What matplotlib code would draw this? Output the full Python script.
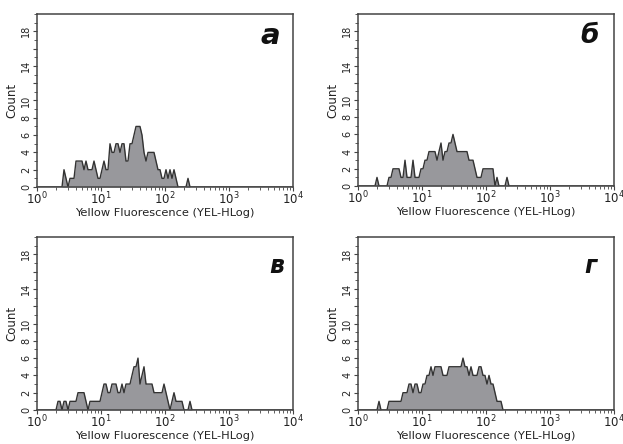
import numpy as np
import matplotlib.pyplot as plt
from matplotlib.ticker import FixedLocator, FixedFormatter, LogLocator, MultipleLocator, NullFormatter

# histogram channels: 32 bins per decade over 4 decades, counts start at bin 8
bins_per_decade = 32
n_bins = 128
first_bin = 8

counts_a = [0, 0, 0, 0, 0, 2, 1, 0, 1, 1, 1, 3, 3, 3, 3, 2, 3, 2, 2, 2,
            3, 2, 1, 1, 2, 3, 2, 2, 5, 4, 4, 5, 5, 4, 5, 5, 3, 3, 5, 5,
            6, 7, 7, 7, 6, 4, 3, 4, 4, 4, 4, 3, 2, 2, 1, 1, 2, 1, 2, 1,
            2, 1, 0, 0, 0, 0, 0, 1, 0]
counts_b = [0, 1, 0, 0, 0, 0, 0, 1, 1, 2, 2, 2, 2, 1, 1, 3, 1, 1, 1, 3,
            1, 1, 1, 2, 2, 3, 3, 4, 4, 4, 4, 3, 4, 5, 3, 4, 4, 5, 5, 6,
            5, 4, 4, 4, 4, 4, 4, 3, 3, 3, 2, 1, 1, 1, 2, 2, 2, 2, 2, 2,
            0, 1, 0, 0, 0, 0, 1, 0, 0]
counts_c = [0, 0, 1, 1, 0, 1, 1, 0, 1, 1, 1, 1, 2, 2, 2, 2, 1, 0, 1, 1,
            1, 1, 1, 1, 2, 3, 3, 2, 2, 3, 3, 3, 2, 2, 3, 2, 3, 3, 3, 4,
            5, 5, 6, 3, 4, 5, 3, 3, 3, 3, 2, 2, 2, 2, 2, 3, 2, 1, 0, 1,
            2, 1, 1, 1, 1, 0, 0, 0, 1]
counts_d = [0, 0, 1, 0, 0, 0, 0, 1, 1, 1, 1, 1, 1, 1, 2, 2, 2, 3, 3, 2,
            3, 3, 2, 2, 3, 3, 4, 4, 5, 4, 5, 5, 5, 5, 4, 4, 4, 5, 5, 5,
            5, 5, 5, 5, 6, 5, 5, 4, 5, 4, 4, 4, 5, 5, 4, 4, 3, 4, 3, 3,
            2, 1, 1, 1, 0, 0, 0, 0, 0]

panel_letters = ['а', 'б', 'в', 'г']
x_label = 'Yellow Fluorescence (YEL-HLog)'
y_label = 'Count'
y_ticks = list(range(0, 19, 2))
y_tick_labels = ['0', '2', '4', '6', '8', '10', '', '14', '', '18']

fill_color = '#98989c'
line_color = '#333333'
axis_color = '#444444'

W, H = 623, 444
fig = plt.figure(figsize=(W / 100, H / 100), dpi=100)

# left, top, height in pixels
boxes = [(37, 14, 173), (358, 14, 172), (37, 237, 173), (358, 237, 173)]
letter_pos = [(0.91, 0.87, 21), (0.905, 0.87, 19), (0.935, 0.83, 17), (0.91, 0.83, 17)]

centers = 10 ** ((np.arange(n_bins) + 0.5) / bins_per_decade)

for i, counts in enumerate([counts_a, counts_b, counts_c, counts_d]):
    left, top, h = boxes[i]
    ax = fig.add_axes([left / W, 1 - (top + h) / H, 256 / W, h / H])

    y = np.zeros(n_bins)
    y[first_bin:first_bin + len(counts)] = counts
    ax.fill_between(centers, y, 0, color=fill_color, lw=0)
    ax.plot(centers, y, color=line_color, lw=1.0)

    ax.set_xscale('log')
    ax.set_xlim(1, 1e4)
    ax.set_ylim(0, 20)
    ax.xaxis.set_major_locator(LogLocator(base=10, numticks=10))
    ax.xaxis.set_minor_locator(LogLocator(base=10, subs=np.arange(2, 10), numticks=20))
    ax.xaxis.set_minor_formatter(NullFormatter())
    ax.yaxis.set_major_locator(FixedLocator(y_ticks))
    ax.yaxis.set_major_formatter(FixedFormatter(y_tick_labels))
    ax.yaxis.set_minor_locator(MultipleLocator(1))

    ax.tick_params(axis='x', which='major', length=3, width=0.8, labelsize=8.5,
                   pad=0, colors=axis_color, labelcolor='#222222')
    ax.tick_params(axis='x', which='minor', length=2.5, width=0.6, colors=axis_color)
    ax.tick_params(axis='y', which='major', length=3, width=0.8, labelsize=7,
                   pad=1, colors=axis_color, labelcolor='#222222', labelrotation=90)
    ax.tick_params(axis='y', which='minor', length=2, width=0.6, colors=axis_color)
    for lab in ax.get_yticklabels():
        lab.set_va('center')

    for sp in ax.spines.values():
        sp.set_color(axis_color)
        sp.set_linewidth(1.1)

    ax.set_xlabel(x_label, fontsize=8.2, color='#222222', labelpad=0)
    ax.set_ylabel(y_label, fontsize=8.5, color='#222222', labelpad=2)

    lx, ly, fs = letter_pos[i]
    ax.text(lx, ly, panel_letters[i], transform=ax.transAxes, fontsize=fs,
            fontweight='bold', fontstyle='italic', ha='center', va='center',
            color='#111111')

fig.savefig('out.png', dpi=100)
